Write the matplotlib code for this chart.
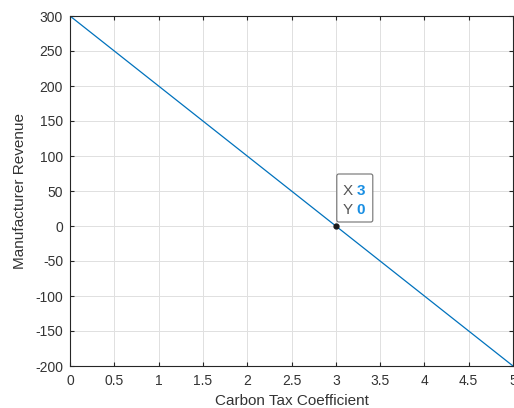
import matplotlib
matplotlib.use('Agg')
import matplotlib.pyplot as plt
import matplotlib.transforms as mtransforms
from matplotlib.patches import FancyBboxPatch

# carbon tax coefficient vs manufacturer revenue
tax = [0, 5]
revenue = [300, -200]
tip_x = 3
tip_y = 0

xticks = [0, 0.5, 1, 1.5, 2, 2.5, 3, 3.5, 4, 4.5, 5]
xticklabels = ['0', '0.5', '1', '1.5', '2', '2.5', '3', '3.5', '4', '4.5', '5']
yticks = [-200, -150, -100, -50, 0, 50, 100, 150, 200, 250, 300]

plt.rcParams['font.family'] = ['Liberation Sans', 'DejaVu Sans']
plt.rcParams['axes.unicode_minus'] = False

fig = plt.figure(figsize=(5.14, 4.08), dpi=100)
ax = fig.add_axes([70 / 514, 42 / 408, 443 / 514, 350 / 408])

ax.plot(tax, revenue, color='#0072BD', linewidth=0.9)
ax.plot([tip_x], [tip_y], 'o', color='#1a1a1a', markersize=3.5, zorder=5)

ax.set_xlim(0, 5)
ax.set_ylim(-200, 300)
ax.set_xticks(xticks)
ax.set_xticklabels(xticklabels)
ax.set_yticks(yticks)
ax.grid(True, color='#e0e0e0', linewidth=0.7)
ax.set_axisbelow(True)
ax.tick_params(direction='in', length=3, width=0.8, color='#262626',
               labelcolor='#333333', labelsize=10, top=True, right=True)
ax.tick_params(axis='x', pad=6)
ax.tick_params(axis='y', pad=5)
for s in ax.spines.values():
    s.set_color('#262626')
    s.set_linewidth(0.8)

ax.set_xlabel('Carbon Tax Coefficient', fontsize=11, color='#333333', labelpad=4)
ax.set_ylabel('Manufacturer Revenue', fontsize=11, color='#333333', labelpad=6)

# data tip, laid out in pixels from the marked point
anchor = mtransforms.ScaledTranslation(tip_x, tip_y, ax.transData)
box = FancyBboxPatch((1, 4), 36, 48, boxstyle='round,pad=0,rounding_size=2',
                     transform=mtransforms.IdentityTransform() + anchor,
                     facecolor='white', edgecolor='#707070', linewidth=0.8,
                     clip_on=False, zorder=6)
ax.add_patch(box)
for label, value, dy in [('X', tip_x, 35), ('Y', tip_y, 16)]:
    ax.annotate(label, xy=(tip_x, tip_y), xytext=(7, dy), textcoords='offset pixels',
                fontsize=11, color='#555555', va='center', ha='left', zorder=7)
    ax.annotate(str(value), xy=(tip_x, tip_y), xytext=(21, dy), textcoords='offset pixels',
                fontsize=11, color='#1a8fe3', fontweight='bold',
                va='center', ha='left', zorder=7)

fig.savefig('out.png', dpi=100)
